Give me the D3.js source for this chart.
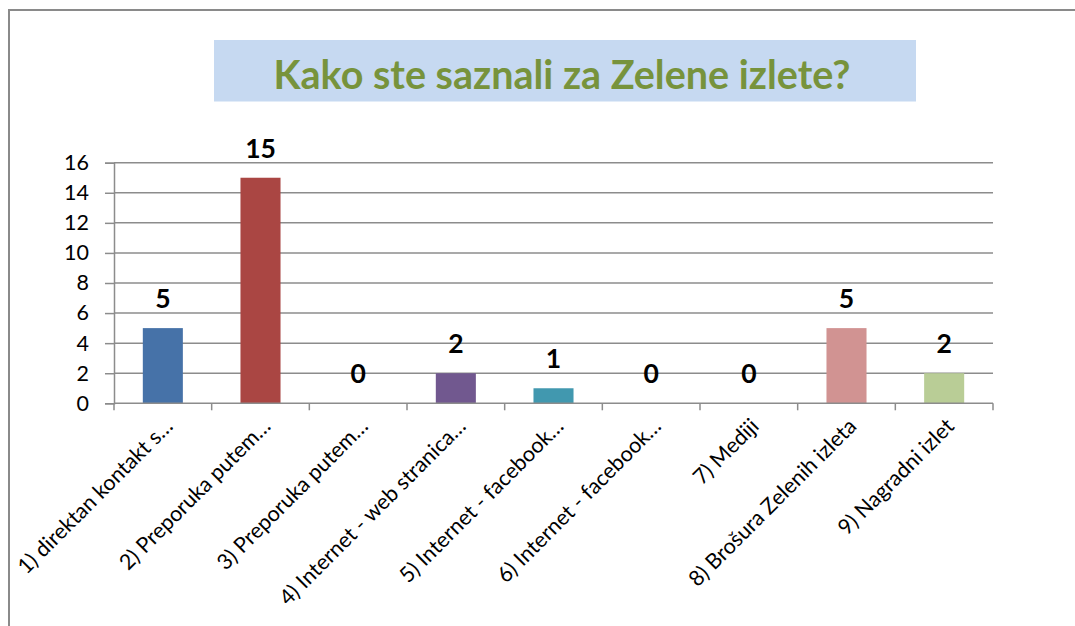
<!DOCTYPE html>
<html>
<head>
<meta charset="utf-8">
<script src="https://cdn.jsdelivr.net/npm/d3@7"></script>
<style>
  html, body { margin: 0; padding: 0; background: #ffffff; }
  svg { display: block; }
</style>
</head>
<body>
<svg id="chart" width="1075" height="626"></svg>
<script>
const title = "Kako ste saznali za Zelene izlete?";
const categories = [
  "1) direktan kontakt s…",
  "2) Preporuka putem…",
  "3) Preporuka putem…",
  "4) Internet - web stranica…",
  "5) Internet - facebook…",
  "6) Internet - facebook…",
  "7) Mediji",
  "8) Brošura Zelenih izleta",
  "9) Nagradni izlet"
];
const values = [5, 15, 0, 2, 1, 0, 0, 5, 2];
const barColors = ["#4672A8", "#AA4643", "#89A54E", "#71588F", "#4198AF", "#DB843D", "#93A9CF", "#D19392", "#B9CD96"];
const yTicks = [0, 2, 4, 6, 8, 10, 12, 14, 16];

const svg = d3.select("#chart");
const W = 1075, H = 626;
const plot = { left: 114, right: 993, top: 162.7, bottom: 403.3 };
const gridColor = "#8C8C8C";
const font = "Lato, 'Open Sans', sans-serif";

svg.append("rect").attr("width", W).attr("height", H).attr("fill", "#ffffff");

// outer frame (top and left edges visible)
svg.append("path")
  .attr("d", `M9,${H} L9,10 L${W},10`)
  .attr("fill", "none").attr("stroke", "#8A8A8A").attr("stroke-width", 2);

// title box
svg.append("rect")
  .attr("x", 214).attr("y", 40).attr("width", 702).attr("height", 61.5)
  .attr("fill", "#C6D9F1");
const t = svg.append("text")
  .attr("x", 562).attr("y", 89)
  .attr("text-anchor", "middle")
  .attr("font-family", font).attr("font-weight", "bold")
  .attr("font-size", 36).attr("fill", "#77933C")
  .text(title);
const tw = t.node().getComputedTextLength();
t.attr("font-size", 36 * 577 / tw);

const x = d3.scaleBand().domain(categories).range([plot.left, plot.right])
  .paddingInner(0.59).paddingOuter(0.295);
const y = d3.scaleLinear().domain([0, 16]).range([plot.bottom, plot.top]);

// gridlines
svg.append("g").selectAll("line").data(yTicks.filter(d => d > 0)).join("line")
  .attr("x1", plot.left).attr("x2", plot.right)
  .attr("y1", d => y(d)).attr("y2", d => y(d))
  .attr("stroke", gridColor).attr("stroke-width", 1.5);

// y axis
const yAxis = svg.append("g").attr("transform", `translate(${plot.left},0)`)
  .call(d3.axisLeft(y).tickValues(yTicks).tickSize(9).tickPadding(16));
yAxis.select(".domain").attr("stroke", gridColor).attr("stroke-width", 1.5);
yAxis.selectAll(".tick line").attr("stroke", gridColor).attr("stroke-width", 1.5);
yAxis.selectAll(".tick text")
  .attr("font-family", font).attr("font-size", 21.5).attr("fill", "#000");

// bars
svg.append("g").selectAll("rect").data(values).join("rect")
  .attr("x", (d, i) => x(categories[i]))
  .attr("width", x.bandwidth())
  .attr("y", d => y(d))
  .attr("height", d => y(0) - y(d))
  .attr("fill", (d, i) => barColors[i]);

// x axis
const step = x.step();
const bounds = d3.range(categories.length + 1).map(i => plot.left + i * step);
svg.append("line")
  .attr("x1", plot.left).attr("x2", plot.right)
  .attr("y1", plot.bottom).attr("y2", plot.bottom)
  .attr("stroke", gridColor).attr("stroke-width", 1.5);
svg.append("g").selectAll("line").data(bounds).join("line")
  .attr("x1", d => d).attr("x2", d => d)
  .attr("y1", plot.bottom).attr("y2", plot.bottom + 7)
  .attr("stroke", gridColor).attr("stroke-width", 1.5);

// category labels
svg.append("g").selectAll("text").data(categories).join("text")
  .attr("transform", d => `translate(${x(d) + x.bandwidth() / 2 + 6},${plot.bottom + 19}) rotate(-45)`)
  .attr("text-anchor", "end")
  .attr("dy", "0.35em")
  .attr("font-family", font).attr("font-size", 21.5).attr("fill", "#000")
  .text(d => d);

// data labels
svg.append("g").selectAll("text").data(values).join("text")
  .attr("x", (d, i) => x(categories[i]) + x.bandwidth() / 2)
  .attr("y", d => y(d) - 20)
  .attr("text-anchor", "middle")
  .attr("font-family", font).attr("font-weight", "bold")
  .attr("font-size", 26.5).attr("fill", "#000")
  .text(d => d);
</script>
</body>
</html>
